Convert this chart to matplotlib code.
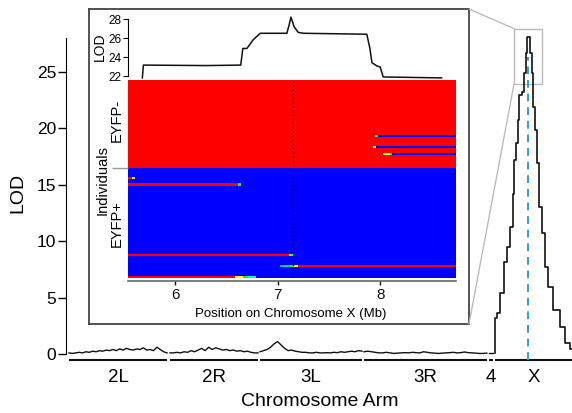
import numpy as np
import matplotlib
matplotlib.use("Agg")
from matplotlib import pyplot as plt
from matplotlib.colors import LinearSegmentedColormap
from matplotlib.patches import Rectangle, ConnectionPatch

plt.rcParams["font.family"] = ["Liberation Sans", "DejaVu Sans"]

# chromosome arms, laid out as on the genome scan (Mb)
arm_names = ["2L", "2R", "3L", "3R", "4", "X"]
arm_starts = [0.0, 23.76, 44.94, 69.41, 98.82, 100.24]
arm_lengths = [23.06, 20.7, 24.0, 28.9, 0.9, 22.4]

# LOD along the autosomes (evenly spaced markers on each arm)
lod_2L = [0.1, 0.05, 0.1, 0.15, 0.1, 0.2, 0.15, 0.25, 0.2, 0.3, 0.25, 0.35, 0.3, 0.4, 0.3,
          0.45, 0.35, 0.5, 0.4, 0.35, 0.45, 0.4, 0.55, 0.35, 0.4, 0.3, 0.6, 0.4, 0.2, 0.1]
lod_2R = [0.1, 0.1, 0.15, 0.1, 0.2, 0.15, 0.3, 0.2, 0.35, 0.5, 0.3, 0.6, 0.4, 0.55, 0.45,
          0.35, 0.4, 0.3, 0.35, 0.25, 0.3, 0.2, 0.25, 0.15, 0.1, 0.1]
lod_3L = [0.2, 0.3, 0.4, 0.6, 0.9, 1.1, 0.8, 0.5, 0.3, 0.35, 0.25, 0.2, 0.15, 0.15, 0.1,
          0.1, 0.15, 0.1, 0.1, 0.12, 0.1, 0.15, 0.12, 0.2, 0.15, 0.2, 0.25, 0.2, 0.3, 0.25]
lod_3R = [0.2, 0.25, 0.2, 0.15, 0.1, 0.1, 0.15, 0.1, 0.05, 0.08, 0.1, 0.12, 0.1, 0.15, 0.12,
          0.1, 0.2, 0.15, 0.1, 0.08, 0.05, 0.08, 0.1, 0.12, 0.15, 0.1, 0.12, 0.18, 0.12, 0.1,
          0.08, 0.05, 0.05, 0.08]
lod_4 = [0.05, 0.05]
autosome_lod = [lod_2L, lod_2R, lod_3L, lod_3R, lod_4]

# LOD along X (position on X in Mb)
x_pos = [0.0, 0.05, 0.7, 1.65, 2.35, 3.06, 4.0, 4.24, 4.7, 5.18, 5.41, 5.88, 6.59, 7.06,
         7.29, 7.76, 8.47, 8.71, 8.94, 9.88, 10.1, 10.8, 11.3, 12.2, 12.9, 14.6, 15.8,
         17.2, 18.1]
x_lod = [0.1, 3.2, 3.6, 5.4, 8.1, 9.5, 11.2, 14.2, 17.2, 18.7, 20.7, 22.9, 23.2, 24.9,
         26.6, 28.05, 26.6, 24.9, 21.9, 19.8, 16.9, 13.0, 10.7, 7.7, 5.9, 3.9, 2.4, 1.0, 0.4]
x_peak = 7.76
zoom_x = (4.47, 11.06)
zoom_y = (23.9, 28.8)

# inset: fine-scale LOD on X
inset_pos = [5.68, 5.69, 6.3, 6.64, 6.66, 6.70, 6.76, 6.83, 7.09, 7.11, 7.13, 7.16, 7.20,
             7.25, 7.87, 7.90, 7.92, 7.97, 8.0, 8.03, 8.60]
inset_lod = [21.8, 23.15, 23.1, 23.15, 24.9, 24.9, 25.8, 26.5, 26.5, 27.3, 28.2, 27.2, 26.6,
             26.5, 26.4, 24.9, 23.4, 23.05, 22.95, 21.9, 21.8]
inset_peak = 7.15

# inset: genotype probabilities per individual
heat_range = (5.54, 8.74)
n_neg, n_pos = 40, 50
# (row, start Mb, end Mb, value) where an individual differs from its group
row_events = [
    (25, 7.95, 7.98, 0.45), (25, 7.98, 8.74, 0.0),
    (30, 7.93, 7.96, 0.6), (30, 7.96, 8.74, 0.0),
    (33, 8.03, 8.10, 0.75), (33, 8.10, 8.12, 0.5), (33, 8.12, 8.74, 0.0),
    (44, 5.54, 5.58, 1.0), (44, 5.58, 5.61, 0.7),
    (47, 5.54, 6.61, 1.0), (47, 6.61, 6.64, 0.45),
    (79, 5.54, 7.11, 1.0), (79, 7.11, 7.13, 0.6), (79, 7.13, 7.15, 0.35),
    (84, 7.02, 7.12, 0.2), (84, 7.12, 7.16, 0.55), (84, 7.16, 7.20, 0.75), (84, 7.20, 8.74, 1.0),
    (89, 5.54, 6.58, 1.0), (89, 6.58, 6.66, 0.75), (89, 6.66, 6.71, 0.5), (89, 6.71, 6.79, 0.3),
]
inset_ticks = [6, 7, 8]

fig = plt.figure(figsize=(5.72, 4.13), dpi=100)

# ---- genome scan
ax = fig.add_axes([0.1154, 0.1223, 0.8846, 0.814])
for start, length, vals in zip(arm_starts[:-1], arm_lengths[:-1], autosome_lod):
    ax.plot(np.linspace(start, start + length, len(vals)), vals, color="#111111", lw=1.0)
ax.plot(np.array(x_pos) + arm_starts[-1], x_lod, color="#111111", lw=1.2,
        drawstyle="steps-mid")
ax.vlines(arm_starts[-1] + x_peak, -0.5, 26.3, colors="#3399dd", linestyles=(0, (4, 3)),
          lw=1.4, clip_on=False, zorder=3)
ax.set_xlim(-0.706, 118.35)
ax.set_ylim(-0.75, 29)
ax.set_xticks([])
ax.set_yticks([0, 5, 10, 15, 20, 25])
ax.tick_params(axis="y", labelsize=12.5, length=5.5, width=1, pad=1.5)
for s in ["top", "right", "bottom"]:
    ax.spines[s].set_visible(False)
ax.spines["left"].set_bounds(0, 28)
ax.text(-0.095, 0.504, "LOD", rotation=90, transform=ax.transAxes, ha="center",
        va="center", fontsize=14)

xt = ax.get_xaxis_transform()
xmax = ax.get_xlim()[1]
for name, start, length in zip(arm_names, arm_starts, arm_lengths):
    end = min(start + length, xmax)
    ax.plot([start, end], [0.0074, 0.0074], transform=xt, color="#111111", lw=1.5,
            clip_on=False, solid_capstyle="butt")
    ax.text((start + end) / 2, -0.046, name, transform=xt, ha="center", va="center",
            fontsize=13.5)
ax.text(0.502, -0.1175, "Chromosome Arm", transform=ax.transAxes, ha="center",
        va="center", fontsize=14)

ax.add_patch(Rectangle((arm_starts[-1] + zoom_x[0], zoom_y[0]), zoom_x[1] - zoom_x[0],
                       zoom_y[1] - zoom_y[0], fill=False, ec="#bbbbbb", lw=1, clip_on=False))

# ---- inset frame
ax_frame = fig.add_axes([0.1556, 0.2155, 0.6643, 0.7627])
ax_frame.set_xticks([])
ax_frame.set_yticks([])
for s in ax_frame.spines.values():
    s.set_color("#444444")
    s.set_linewidth(1.3)

for a, b in [((1, 1), (zoom_x[0], zoom_y[1])), ((1, 0), (zoom_x[0], zoom_y[0]))]:
    con = ConnectionPatch(xyA=a, coordsA=ax_frame.transAxes,
                          xyB=(arm_starts[-1] + b[0], b[1]), coordsB=ax.transData,
                          color="#bbbbbb", lw=1)
    fig.add_artist(con)

# ---- inset LOD trace
ax_l = fig.add_axes([0.2238, 0.8063, 0.5734, 0.1598])
ax_l.plot(inset_pos, inset_lod, color="#111111", lw=1.1)
ax_l.set_xlim(*heat_range)
ax_l.set_ylim(21.58, 28.53)
ax_l.set_yticks([22, 24, 26, 28])
ax_l.set_xticks([])
ax_l.patch.set_alpha(0)
for s in ["top", "right", "bottom"]:
    ax_l.spines[s].set_visible(False)
ax_l.spines["left"].set_bounds(22, 28)
ax_l.tick_params(axis="y", labelsize=8.5, length=3.5, width=0.8, pad=1.5)
ax_l.text(-0.085, 0.5, "LOD", rotation=90, transform=ax_l.transAxes, ha="center",
          va="center", fontsize=10)

# ---- inset genotype heatmap
cols = np.linspace(heat_range[0], heat_range[1], 321)
centers = (cols[:-1] + cols[1:]) / 2
geno = np.zeros((n_neg + n_pos, len(centers)))
geno[:n_neg] = 1.0
for row, x0, x1, v in row_events:
    geno[row, (centers >= x0) & (centers < x1)] = v

cmap = LinearSegmentedColormap.from_list(
    "geno", ["#0000ff", "#00ffff", "#00ff00", "#ffff00", "#ff0000"])
ax_h = fig.add_axes([0.2238, 0.3269, 0.5734, 0.4794])
ax_h.imshow(geno, cmap=cmap, vmin=0, vmax=1, aspect="auto", interpolation="nearest",
            extent=[heat_range[0], heat_range[1], n_neg + n_pos, 0])
ax_h.axvline(inset_peak, color="#111111", ls=(0, (1, 2)), lw=1)
ax_h.set_xlim(*heat_range)
ax_h.set_xticks(inset_ticks)
ax_h.set_xticklabels([str(t) for t in inset_ticks])
ax_h.set_yticks([n_neg])
ax_h.set_yticklabels([""])
ax_h.tick_params(axis="x", labelsize=11, length=3, width=1, pad=2, colors="#111111")
ax_h.tick_params(axis="y", length=11.5, width=1, colors="#999999")
for s in ["top", "right", "left"]:
    ax_h.spines[s].set_visible(False)
ax_h.spines["bottom"].set_position(("outward", 2))
ax_h.spines["bottom"].set_color("#666666")
ax_h.spines["bottom"].set_linewidth(1.2)
ax_h.text(0.497, -0.182, "Position on Chromosome X (Mb)", transform=ax_h.transAxes,
          ha="center", va="center", fontsize=9.5)
ax_h.text(-0.076, 0.495, "Individuals", rotation=90, transform=ax_h.transAxes,
          ha="center", va="center", fontsize=10.5)
ax_h.text(-0.0335, 0.798, "EYFP-", rotation=90, transform=ax_h.transAxes,
          ha="center", va="center", fontsize=10.5)
ax_h.text(-0.0335, 0.273, "EYFP+", rotation=90, transform=ax_h.transAxes,
          ha="center", va="center", fontsize=10.5)

fig.savefig("out.png", dpi=100)
